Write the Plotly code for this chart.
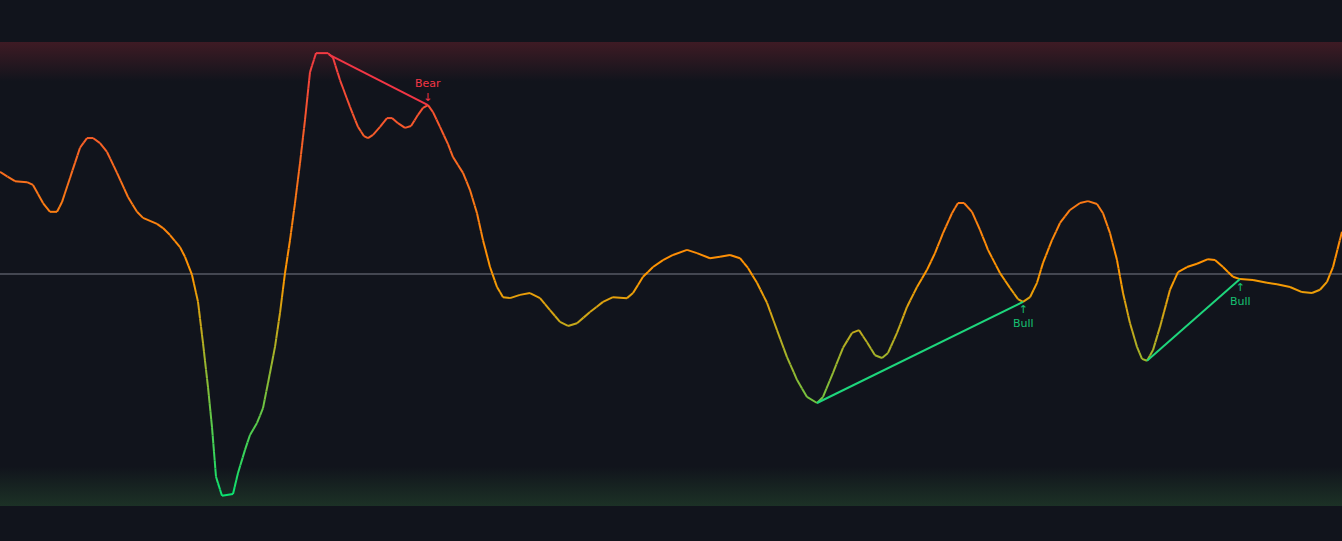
import plotly.graph_objects as go

# ---------------- data ----------------
t = [0, 15, 27, 33, 43, 50, 57, 62, 70, 80, 87, 93, 100, 107, 117, 128, 137, 143, 157, 163,
     170, 180, 185, 192, 198, 203, 208, 212, 216, 222, 233, 238, 245, 250, 257, 263, 268, 275, 280, 285,
     290, 295, 300, 305, 310, 316, 328, 333, 340, 350, 358, 364, 368, 373, 380, 387, 392, 398, 405, 411,
     418, 423, 428, 433, 440, 448, 453, 463, 470, 477, 483, 490, 497, 503, 510, 520, 530, 540, 550, 560,
     568, 577, 590, 603, 613, 627, 633, 643, 653, 663, 673, 687, 697, 710, 720, 730, 740, 748, 757, 767,
     777, 787, 797, 807, 817, 823, 833, 843, 852, 859, 867, 875, 882, 888, 897, 907, 917, 927, 935, 943,
     952, 958, 964, 972, 980, 988, 1000, 1010, 1018, 1023, 1030, 1037, 1043, 1052, 1060, 1070, 1080, 1088, 1097, 1103,
     1110, 1117, 1123, 1130, 1137, 1142, 1147, 1153, 1160, 1170, 1178, 1187, 1197, 1208, 1215, 1223, 1233, 1240, 1253, 1267,
     1277, 1290, 1302, 1312, 1320, 1327, 1333, 1342]
osc = [72.0, 70.0, 69.8, 69.2, 65.3, 63.4, 63.4, 65.5, 70.7, 77.2, 79.3, 79.3, 78.2, 76.3, 71.8, 66.6, 63.4, 62.1, 60.8, 59.9,
       58.4, 55.8, 53.7, 49.8, 44.0, 35.1, 25.6, 17.0, 6.3, 2.2, 2.6, 7.1, 12.1, 15.3, 17.9, 21.1, 26.5, 34.3, 41.6, 50.2,
       57.3, 65.3, 73.9, 83.2, 93.5, 97.6, 97.6, 96.6, 91.8, 86.0, 81.7, 79.7, 79.3, 80.0, 81.7, 83.6, 83.6, 82.5, 81.5, 81.9,
       84.3, 85.8, 86.4, 84.9, 81.7, 78.0, 75.2, 71.8, 68.1, 63.1, 57.3, 51.5, 47.2, 45.0, 44.8, 45.5, 45.9, 44.8, 42.2, 39.7,
       38.8, 39.4, 41.8, 44.0, 45.0, 44.8, 45.9, 49.4, 51.5, 53.0, 54.1, 55.2, 54.5, 53.4, 53.7, 54.1, 53.4, 51.3, 48.1, 43.8,
       37.9, 32.1, 27.2, 23.5, 22.2, 23.5, 28.7, 34.1, 37.3, 37.9, 35.3, 32.5, 31.9, 33.0, 37.3, 42.9, 47.2, 50.9, 54.5, 58.8,
       63.1, 65.3, 65.3, 63.4, 59.5, 55.2, 50.2, 47.0, 44.6, 44.0, 45.0, 48.1, 52.4, 57.3, 61.0, 63.8, 65.3, 65.7, 65.1, 63.1,
       58.8, 53.0, 45.9, 39.4, 34.3, 31.7, 31.3, 33.6, 38.6, 46.6, 50.4, 51.5, 52.2, 53.2, 53.0, 51.5, 49.4, 48.9, 48.7, 48.1,
       47.8, 47.2, 46.1, 45.9, 46.6, 48.3, 51.5, 59.1]

# divergences: (start t, start value, end t, end value, label)
div_t0 = [329, 817, 1147]
div_v0 = [97.3, 22.2, 31.3]
div_t1 = [428, 1023, 1240]
div_v1 = [86.4, 44.0, 48.9]
div_kind = ["Bear", "Bull", "Bull"]

mid_level = 50
upper_zone = [91.5, 100]
lower_zone = [0, 8.5]

# ---------------- styling ----------------
BG = "#11141c"
RED = (242, 54, 69)
ORANGE = (255, 152, 0)
GREEN = (0, 230, 118)
BEAR_COL = "#f23645"
BULL_COL = "#1ed67c"
BULL_TXT = "#16c172"


def grad_color(v):
    v = max(0.0, min(100.0, v))
    if v >= 50:
        f = (v - 50) / 50.0
        a, b = ORANGE, RED
    else:
        f = (50 - v) / 50.0
        a, b = ORANGE, GREEN
    c = [round(a[i] + (b[i] - a[i]) * f) for i in range(3)]
    return "rgb(%d,%d,%d)" % tuple(c)


fig = go.Figure()

# gradient zones
fig.add_trace(go.Scatter(
    x=[0, 1342, 1342, 0, 0],
    y=[upper_zone[1], upper_zone[1], upper_zone[0], upper_zone[0], upper_zone[1]],
    mode="lines", line=dict(width=0), fill="toself",
    fillgradient=dict(type="vertical",
                      colorscale=[[0, "rgba(242,54,69,0)"], [1, "rgba(242,54,69,0.2)"]]),
    hoverinfo="skip", showlegend=False))
fig.add_trace(go.Scatter(
    x=[0, 1342, 1342, 0, 0],
    y=[lower_zone[1], lower_zone[1], lower_zone[0], lower_zone[0], lower_zone[1]],
    mode="lines", line=dict(width=0), fill="toself",
    fillgradient=dict(type="vertical",
                      colorscale=[[0, "rgba(76,175,80,0.19)"], [1, "rgba(76,175,80,0)"]]),
    hoverinfo="skip", showlegend=False))

# midline
fig.add_trace(go.Scatter(x=[0, 1342], y=[mid_level, mid_level], mode="lines",
                         line=dict(color="#787b86", width=1), hoverinfo="skip", showlegend=False))

# gradient-coloured oscillator, split into colour bins
bins = {}
for i in range(len(t) - 1):
    x0, x1, y0, y1 = t[i], t[i + 1], osc[i], osc[i + 1]
    n = max(1, int(abs(y1 - y0) / 2.0) + 1)
    for k in range(n):
        fa, fb = k / n, (k + 1) / n
        xa, xb = x0 + (x1 - x0) * fa, x0 + (x1 - x0) * fb
        ya, yb = y0 + (y1 - y0) * fa, y0 + (y1 - y0) * fb
        key = int(round((ya + yb) / 2.0))
        bins.setdefault(key, ([], []))
        bins[key][0].extend([xa, xb, None])
        bins[key][1].extend([ya, yb, None])
for key in sorted(bins):
    xs, ys = bins[key]
    fig.add_trace(go.Scatter(x=xs, y=ys, mode="lines",
                             line=dict(color=grad_color(key), width=2),
                             hoverinfo="skip", showlegend=False))

# divergence lines and labels
for a, va, b, vb, kind in zip(div_t0, div_v0, div_t1, div_v1, div_kind):
    col = BEAR_COL if kind == "Bear" else BULL_COL
    fig.add_trace(go.Scatter(x=[a, b], y=[va, vb], mode="lines",
                             line=dict(color=col, width=2),
                             hoverinfo="skip", showlegend=False))
    if kind == "Bear":
        fig.add_annotation(x=b, y=vb + 0.1, text="Bear<br>↓", showarrow=False,
                           font=dict(color=BEAR_COL, size=11, family="DejaVu Sans"),
                           xanchor="center", yanchor="bottom", align="center",
                           borderpad=0)
    else:
        fig.add_annotation(x=b, y=vb - 0.1, text="↑<br>Bull", showarrow=False,
                           font=dict(color=BULL_TXT, size=11, family="DejaVu Sans"),
                           xanchor="center", yanchor="top", align="center",
                           borderpad=0)

fig.update_layout(
    width=1342, height=541,
    margin=dict(l=0, r=0, t=0, b=0),
    paper_bgcolor=BG, plot_bgcolor=BG,
    showlegend=False,
    xaxis=dict(range=[0, 1342], visible=False, fixedrange=True),
    yaxis=dict(range=[-7.54, 109.05], visible=False, fixedrange=True),
)

fig.write_html("out.html", config={"displayModeBar": False},
               post_script="document.body.style.margin='0';document.body.style.background='%s';" % BG)
